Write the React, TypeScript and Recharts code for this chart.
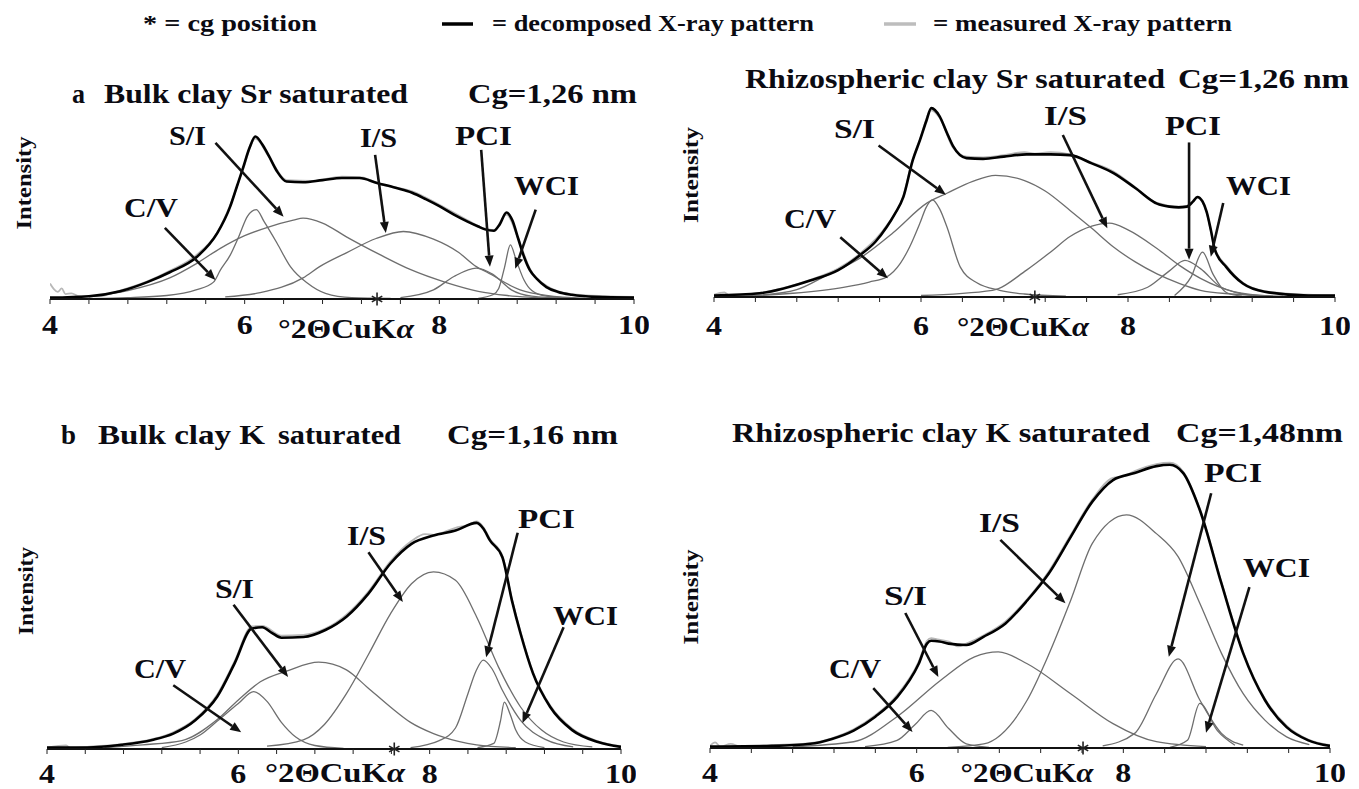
import React from 'react';
import { LineChart, Line, XAxis, YAxis, ReferenceLine, ReferenceDot } from 'recharts';

type P = [number, number];

// ---------- axes ----------
const X_TICKS = [4, 4.4, 4.8, 5.2, 5.6, 6, 6.4, 6.8, 7.2, 7.6, 8, 8.4, 8.8, 9.2, 9.6, 10];
const X_LABELS = [4, 6, 8, 10];
const Y_TICKS_TOP = [0, 1, 2, 3];
const Y_TICKS_BOTTOM = [0, 1, 2, 3, 4, 5];
const COMPONENTS = ['C/V', 'S/I', 'I/S', 'PCI', 'WCI'];
const CG_POSITIONS = [7.36, 7.1, 7.63, 7.61];

// ---------- panel a : Bulk clay Sr saturated ----------
const A_DEC: P[] = [[4.0,0.02],[4.4,0.04],[4.72,0.11],[5.0,0.24],[5.23,0.38],[5.51,0.6],[5.72,0.94],[5.85,1.31],[5.92,1.6],[5.98,1.85],[6.05,2.15],[6.11,2.31],[6.18,2.2],[6.25,2.03],[6.33,1.82],[6.43,1.67],[6.6,1.66],[6.8,1.69],[7.0,1.72],[7.18,1.72],[7.36,1.65],[7.55,1.58],[7.72,1.51],[7.86,1.42],[8.0,1.32],[8.15,1.2],[8.29,1.1],[8.4,1.03],[8.47,0.99],[8.56,0.97],[8.62,1.06],[8.69,1.23],[8.75,1.12],[8.81,0.86],[8.87,0.6],[8.93,0.41],[9.0,0.29],[9.1,0.17],[9.22,0.1],[9.36,0.06],[9.6,0.03],[10.0,0.02]];
const A_MEAS: P[] = [[4.0,0.22],[4.04,0.14],[4.08,0.1],[4.12,0.15],[4.16,0.07],[4.22,0.08],[4.3,0.04],[4.5,0.04],[4.72,0.12],[5.0,0.25],[5.23,0.4],[5.5,0.62],[5.72,0.95],[5.85,1.33],[5.98,1.83],[6.11,2.28],[6.25,2.02],[6.43,1.69],[6.7,1.68],[7.0,1.74],[7.2,1.73],[7.4,1.63],[7.72,1.53],[8.0,1.34],[8.29,1.12],[8.47,1.0],[8.56,0.98],[8.69,1.2],[8.81,0.86],[8.93,0.43],[9.1,0.19],[9.36,0.07],[9.7,0.04],[10.0,0.03]];
const A_CV: P[] = [[4.0,0.0],[4.8,0.02],[5.2,0.05],[5.5,0.13],[5.68,0.24],[5.75,0.41],[5.85,0.62],[5.94,0.89],[6.03,1.18],[6.12,1.27],[6.2,1.1],[6.33,0.8],[6.47,0.46],[6.64,0.23],[6.83,0.08],[7.1,0.02],[7.5,0.01]];
const A_SI: P[] = [[4.4,0.03],[4.8,0.12],[5.23,0.3],[5.5,0.5],[5.75,0.72],[6.0,0.9],[6.26,1.03],[6.5,1.12],[6.6,1.15],[6.8,1.08],[7.05,0.88],[7.39,0.63],[7.7,0.42],[8.08,0.23],[8.4,0.11],[8.7,0.05],[9.2,0.01]];
const A_IS: P[] = [[5.8,0.03],[6.16,0.09],[6.6,0.3],[6.77,0.46],[7.05,0.66],[7.35,0.86],[7.63,0.96],[7.94,0.85],[8.2,0.66],[8.38,0.46],[8.49,0.38],[8.83,0.13],[9.1,0.05],[9.5,0.01]];
const A_PCI: P[] = [[7.6,0.02],[7.94,0.13],[8.15,0.32],[8.38,0.44],[8.55,0.35],[8.74,0.13],[8.95,0.04],[9.3,0.01]];
const A_WCI: P[] = [[8.4,0.01],[8.55,0.06],[8.61,0.15],[8.67,0.45],[8.73,0.77],[8.79,0.55],[8.87,0.27],[8.95,0.12],[9.1,0.04],[9.4,0.01]];
const A_ARROWS: [number, number, number, number][] = [[5.18,1.01,5.7,0.27],[5.7,2.22,6.4,1.17],[7.34,2.05,7.45,0.94],[8.43,2.12,8.52,0.46],[8.99,1.27,8.78,0.43]];

// ---------- panel b-top : Rhizospheric clay Sr saturated ----------
const B_DEC: P[] = [[4.0,0.02],[4.44,0.05],[4.93,0.22],[5.2,0.36],[5.41,0.56],[5.56,0.74],[5.67,0.94],[5.75,1.12],[5.83,1.34],[5.92,1.83],[5.99,2.1],[6.05,2.35],[6.1,2.53],[6.18,2.42],[6.25,2.2],[6.31,2.02],[6.44,1.86],[6.6,1.85],[6.8,1.88],[7.02,1.91],[7.25,1.91],[7.44,1.9],[7.65,1.79],[7.86,1.66],[8.07,1.46],[8.28,1.25],[8.4,1.21],[8.49,1.2],[8.57,1.21],[8.63,1.28],[8.67,1.34],[8.72,1.28],[8.76,1.14],[8.8,0.9],[8.84,0.63],[8.95,0.4],[9.11,0.18],[9.32,0.07],[9.74,0.02],[10.0,0.02]];
const B_MEAS: P[] = [[4.0,0.03],[4.1,0.06],[4.15,0.02],[4.5,0.07],[4.93,0.23],[5.2,0.38],[5.41,0.58],[5.67,0.96],[5.83,1.36],[5.92,1.85],[5.99,2.12],[6.1,2.5],[6.18,2.4],[6.31,2.0],[6.44,1.88],[6.6,1.87],[6.8,1.9],[7.0,1.94],[7.1,1.92],[7.25,1.94],[7.44,1.91],[7.65,1.8],[7.86,1.68],[8.07,1.47],[8.28,1.26],[8.49,1.21],[8.57,1.22],[8.67,1.33],[8.76,1.13],[8.84,0.65],[8.95,0.42],[9.11,0.19],[9.32,0.08],[9.74,0.03],[10.0,0.02]];
const B_CV: P[] = [[4.0,0.0],[4.76,0.05],[5.25,0.13],[5.5,0.2],[5.67,0.27],[5.8,0.45],[5.89,0.67],[5.99,0.99],[6.05,1.2],[6.11,1.3],[6.18,1.18],[6.25,0.94],[6.38,0.4],[6.54,0.19],[6.76,0.09],[7.0,0.04],[7.4,0.01]];
const B_SI: P[] = [[4.4,0.02],[4.8,0.1],[5.1,0.3],[5.41,0.52],[5.73,0.86],[6.06,1.26],[6.25,1.39],[6.5,1.55],[6.72,1.63],[7.0,1.56],[7.2,1.42],[7.44,1.16],[7.65,0.92],[7.86,0.67],[8.07,0.47],[8.28,0.31],[8.5,0.18],[8.7,0.09],[9.0,0.04],[9.5,0.01]];
const B_IS: P[] = [[6.0,0.02],[6.69,0.09],[7.02,0.36],[7.25,0.6],[7.44,0.81],[7.65,0.95],[7.82,0.99],[8.0,0.9],[8.28,0.65],[8.5,0.42],[8.7,0.25],[9.03,0.07],[9.4,0.01]];
const B_PCI: P[] = [[7.9,0.03],[8.19,0.13],[8.4,0.35],[8.55,0.49],[8.7,0.38],[8.9,0.13],[9.2,0.02]];
const B_WCI: P[] = [[8.45,0.02],[8.61,0.27],[8.72,0.6],[8.82,0.31],[8.95,0.06],[9.1,0.01]];
const B_ARROWS: [number, number, number, number][] = [[5.22,0.8,5.68,0.25],[5.59,2.03,6.24,1.37],[7.37,2.17,7.8,0.92],[8.59,2.07,8.59,0.5],[8.92,1.26,8.8,0.54]];

// ---------- panel b : Bulk clay K saturated ----------
const C_DEC: P[] = [[4.0,0.02],[4.42,0.02],[4.78,0.06],[5.1,0.13],[5.32,0.22],[5.55,0.41],[5.78,0.75],[5.96,1.22],[6.14,1.72],[6.25,1.74],[6.35,1.66],[6.45,1.59],[6.68,1.6],[6.91,1.7],[7.13,1.89],[7.36,2.22],[7.59,2.65],[7.81,2.93],[8.04,3.05],[8.27,3.12],[8.49,3.23],[8.56,3.15],[8.63,2.98],[8.76,2.74],[8.86,2.12],[8.95,1.65],[9.08,1.08],[9.26,0.6],[9.49,0.27],[9.76,0.1],[10.0,0.03]];
const C_MEAS: P[] = [[4.0,0.02],[4.2,0.05],[4.25,0.01],[4.42,0.03],[4.78,0.07],[5.1,0.14],[5.32,0.24],[5.55,0.43],[5.78,0.78],[5.96,1.25],[6.14,1.75],[6.25,1.76],[6.45,1.62],[6.68,1.63],[6.91,1.72],[7.13,1.92],[7.36,2.25],[7.59,2.68],[7.81,2.97],[7.95,3.07],[8.04,3.06],[8.27,3.16],[8.4,3.2],[8.49,3.25],[8.56,3.17],[8.63,3.0],[8.76,2.76],[8.86,2.14],[8.95,1.67],[9.08,1.1],[9.26,0.62],[9.49,0.29],[9.76,0.11],[10.0,0.04]];
const C_CV: P[] = [[5.2,0.02],[5.45,0.1],[5.6,0.2],[5.78,0.4],[6.0,0.65],[6.16,0.82],[6.3,0.68],[6.45,0.38],[6.6,0.17],[6.8,0.05],[7.1,0.01]];
const C_SI: P[] = [[4.6,0.02],[5.0,0.06],[5.41,0.12],[5.78,0.42],[6.0,0.7],[6.23,0.96],[6.52,1.12],[6.84,1.24],[7.13,1.13],[7.35,0.88],[7.59,0.6],[7.8,0.38],[8.04,0.22],[8.3,0.11],[8.49,0.06],[8.9,0.02]];
const C_IS: P[] = [[6.3,0.04],[6.68,0.13],[6.9,0.35],[7.13,0.79],[7.36,1.35],[7.59,1.93],[7.81,2.36],[8.04,2.53],[8.27,2.41],[8.49,1.89],[8.72,1.17],[8.95,0.6],[9.17,0.27],[9.4,0.1],[9.7,0.03]];
const C_PCI: P[] = [[7.8,0.02],[8.1,0.12],[8.27,0.3],[8.4,0.79],[8.48,1.1],[8.56,1.27],[8.65,1.15],[8.76,0.84],[8.95,0.41],[9.22,0.13],[9.5,0.03]];
const C_WCI: P[] = [[8.5,0.02],[8.67,0.08],[8.74,0.4],[8.78,0.67],[8.84,0.5],[8.9,0.27],[9.0,0.1],[9.2,0.02]];
const C_ARROWS: [number, number, number, number][] = [[5.32,0.91,6.03,0.24],[5.95,2.06,6.52,1.03],[7.36,2.81,7.72,2.1],[8.92,3.09,8.59,1.31],[9.4,1.74,8.97,0.37]];

// ---------- panel b-right : Rhizospheric clay K saturated ----------
const D_DEC: P[] = [[4.0,0.02],[4.13,0.02],[4.6,0.03],[4.97,0.06],[5.18,0.13],[5.39,0.25],[5.6,0.45],[5.81,0.73],[6.02,1.21],[6.1,1.5],[6.14,1.54],[6.22,1.53],[6.31,1.5],[6.48,1.48],[6.65,1.6],[6.86,1.79],[7.07,2.12],[7.28,2.51],[7.49,3.03],[7.7,3.54],[7.9,3.85],[8.11,3.95],[8.32,4.05],[8.45,4.07],[8.58,3.95],[8.74,3.42],[8.95,2.36],[9.16,1.36],[9.37,0.69],[9.58,0.3],[9.79,0.11],[10.0,0.03]];
const D_MEAS: P[] = [[4.0,0.03],[4.05,0.08],[4.1,0.02],[4.2,0.06],[4.3,0.02],[4.6,0.04],[4.97,0.07],[5.18,0.14],[5.39,0.27],[5.6,0.47],[5.81,0.76],[6.02,1.24],[6.1,1.54],[6.14,1.58],[6.2,1.56],[6.31,1.53],[6.4,1.46],[6.48,1.5],[6.65,1.62],[6.86,1.82],[7.07,2.14],[7.28,2.54],[7.49,3.06],[7.7,3.57],[7.9,3.88],[8.0,3.9],[8.11,3.98],[8.32,4.08],[8.45,4.1],[8.58,3.97],[8.74,3.44],[8.95,2.38],[9.16,1.38],[9.37,0.71],[9.58,0.32],[9.79,0.12],[10.0,0.04]];
const D_CV: P[] = [[5.5,0.02],[5.81,0.11],[5.98,0.33],[6.14,0.54],[6.31,0.28],[6.48,0.06],[6.7,0.01]];
const D_SI: P[] = [[4.8,0.02],[5.39,0.09],[5.81,0.45],[6.23,0.97],[6.56,1.31],[6.79,1.38],[7.07,1.21],[7.49,0.78],[7.9,0.35],[8.32,0.09],[8.8,0.02]];
const D_IS: P[] = [[6.3,0.01],[6.65,0.06],[7.07,0.69],[7.28,1.35],[7.49,2.12],[7.7,2.94],[8.03,3.35],[8.32,3.08],[8.53,2.75],[8.74,2.08],[8.95,1.36],[9.16,0.78],[9.37,0.4],[9.58,0.16],[9.8,0.05]];
const D_PCI: P[] = [[7.8,0.03],[8.11,0.21],[8.32,0.78],[8.53,1.28],[8.74,0.69],[8.95,0.21],[9.16,0.04]];
const D_WCI: P[] = [[8.45,0.01],[8.62,0.11],[8.74,0.64],[8.91,0.25],[9.08,0.04]];
const D_ARROWS: [number, number, number, number][] = [[5.58,0.86,5.96,0.23],[5.89,1.94,6.21,1.02],[6.81,2.99,7.44,2.08],[8.85,3.66,8.44,1.31],[9.22,2.31,8.8,0.22]];

const FONT = '"Liberation Serif", "Times New Roman", Times, serif';
const INK = '#0b0b12';

const ML = 40, MT = 15, MR = 15;

const PANELS = [
  { id: 'a', left: 50, right: 634, top: 88, bottom: 299, yMax: 3, yTicks: Y_TICKS_TOP, cg: CG_POSITIONS[0], dec: A_DEC, meas: A_MEAS, comps: [A_CV, A_SI, A_IS, A_PCI, A_WCI], arrows: A_ARROWS, tickBase: 35, xh: 48 },
  { id: 'b1', left: 714, right: 1335, top: 73, bottom: 297, yMax: 3, yTicks: Y_TICKS_TOP, cg: CG_POSITIONS[1], dec: B_DEC, meas: B_MEAS, comps: [B_CV, B_SI, B_IS, B_PCI, B_WCI], arrows: B_ARROWS, tickBase: 38, xh: 48 },
  { id: 'b', left: 47, right: 621, top: 399, bottom: 749, yMax: 5, yTicks: Y_TICKS_BOTTOM, cg: CG_POSITIONS[2], dec: C_DEC, meas: C_MEAS, comps: [C_CV, C_SI, C_IS, C_PCI, C_WCI], arrows: C_ARROWS, tickBase: 34, xh: 40 },
  { id: 'b2', left: 710, right: 1330, top: 400, bottom: 748, yMax: 5, yTicks: Y_TICKS_BOTTOM, cg: CG_POSITIONS[3], dec: D_DEC, meas: D_MEAS, comps: [D_CV, D_SI, D_IS, D_PCI, D_WCI], arrows: D_ARROWS, tickBase: 34, xh: 40 },
];

const toPts = (arr: P[]) => arr.map(([x, y]) => ({ x, y }));

const ArrowShape = (props: any) => {
  const { x1, y1, x2, y2 } = props;
  const dx = x2 - x1, dy = y2 - y1;
  const len = Math.hypot(dx, dy) || 1;
  const ux = dx / len, uy = dy / len;
  const hl = 11, hw = 4.5;
  const bx = x2 - ux * hl, by = y2 - uy * hl;
  const pts = `${x2},${y2} ${bx - uy * hw},${by + ux * hw} ${bx + uy * hw},${by - ux * hw}`;
  return (
    <g>
      <line x1={x1} y1={y1} x2={bx} y2={by} stroke="#111" strokeWidth={2.6} />
      <polygon points={pts} fill="#111" />
    </g>
  );
};

const StarShape = (props: any) => {
  const { cx, cy } = props;
  const r = 6.5;
  return (
    <g stroke="#222" strokeWidth={1.6}>
      <line x1={cx} y1={cy - r} x2={cx} y2={cy + r} />
      <line x1={cx - r * 0.8} y1={cy - r * 0.45} x2={cx + r * 0.8} y2={cy + r * 0.45} />
      <line x1={cx - r * 0.8} y1={cy + r * 0.45} x2={cx + r * 0.8} y2={cy - r * 0.45} />
    </g>
  );
};

function Panel({ p }: { p: any }) {
  const plotW = p.right - p.left;
  const plotH = p.bottom - p.top;
  const W = ML + plotW + MR;
  const H = MT + plotH + p.xh;
  const axisY = MT + plotH;
  const renderTick = (props: any) => {
    const v = props.payload.value;
    if (!X_LABELS.includes(v)) return <g />;
    const s = String(v);
    return (
      <text x={props.x} y={axisY + p.tickBase} textAnchor="middle" fontFamily={FONT} fontWeight="bold"
        fontSize={27} fill={INK} textLength={s.length * 16} lengthAdjust="spacingAndGlyphs">{s}</text>
    );
  };
  return (
    <div style={{ position: 'absolute', left: p.left - ML, top: p.top - MT, width: W, height: H }}>
      <LineChart width={W} height={H} margin={{ top: MT, right: MR, left: ML, bottom: 0 }}>
        <XAxis type="number" dataKey="x" domain={[4, 10]} ticks={X_TICKS} interval={0} allowDataOverflow
          height={p.xh} tickSize={5} stroke="#111" axisLine={{ stroke: '#111', strokeWidth: 2 }}
          tickLine={{ stroke: '#222', strokeWidth: 1 }} tick={renderTick} />
        <YAxis type="number" domain={[0, p.yMax]} ticks={p.yTicks} width={0} tickSize={5} tick={false}
          axisLine={{ stroke: '#555', strokeWidth: 1.2 }} tickLine={{ stroke: '#555', strokeWidth: 1 }} allowDataOverflow />
        <Line data={toPts(p.meas)} dataKey="y" type="monotone" dot={false} stroke="#b8b8b8" strokeWidth={1.8}
          isAnimationActive={false} name="measured" />
        {p.comps.map((c: P[], i: number) => (
          <Line key={COMPONENTS[i]} data={toPts(c)} dataKey="y" type="monotone" dot={false} stroke="#6e6e6e"
            strokeWidth={1.3} isAnimationActive={false} name={COMPONENTS[i]} />
        ))}
        <Line data={toPts(p.dec)} dataKey="y" type="monotone" dot={false} stroke="#000" strokeWidth={2.6}
          isAnimationActive={false} name="decomposed" />
        {p.arrows.map((a: number[], i: number) => (
          <ReferenceLine key={'ar' + i} segment={[{ x: a[0], y: a[1] }, { x: a[2], y: a[3] }]} ifOverflow="visible"
            shape={ArrowShape} />
        ))}
        <ReferenceDot x={p.cg} y={0} r={6} ifOverflow="visible" shape={StarShape} />
      </LineChart>
    </div>
  );
}

const T = ({ x, y, w, fs = 27, anchor = 'start', children }: any) => (
  <text x={x} y={y} fontSize={fs} fontFamily={FONT} fontWeight="bold" fill={INK} textAnchor={anchor}
    textLength={w} lengthAdjust="spacingAndGlyphs">{children}</text>
);

const VT = ({ cx, cy, len }: any) => (
  <text transform={`translate(${cx + 8},${cy}) rotate(-90)`} fontSize={22} fontFamily={FONT} fontWeight="bold"
    fill={INK} textAnchor="middle" textLength={len} lengthAdjust="spacingAndGlyphs">Intensity</text>
);

const AxisTitle = ({ cx, y, w }: any) => (
  <text x={cx} y={y} fontSize={27} fontFamily={FONT} fontWeight="bold" fill={INK} textAnchor="middle"
    textLength={w} lengthAdjust="spacingAndGlyphs">
    <tspan>°2ΘCuK</tspan><tspan fontStyle="italic">α</tspan>
  </text>
);

export default function App() {
  return (
    <div style={{ position: 'absolute', left: 0, top: 0, width: 1359, height: 789, overflow: 'hidden', background: '#fff' }}>
      {PANELS.map((p) => <Panel key={p.id} p={p} />)}
      <svg width={1359} height={789} style={{ position: 'absolute', left: 0, top: 0, pointerEvents: 'none' }}>
        {/* legend */}
        <T x={143} y={31} w={174} fs={23}>* = cg position</T>
        <line x1={442} y1={24} x2={473} y2={24} stroke="#000" strokeWidth={3.5} />
        <T x={492} y={31} w={322} fs={23}>= decomposed X-ray pattern</T>
        <line x1={884} y1={24} x2={916} y2={24} stroke="#bdbdbd" strokeWidth={3.5} />
        <T x={933} y={31} w={299} fs={23}>= measured X-ray pattern</T>

        {/* panel a */}
        <T x={72} y={103} w={13}>a</T>
        <T x={104} y={103} w={304}>Bulk clay Sr saturated</T>
        <T x={468} y={103} w={169}>Cg=1,26 nm</T>
        <T x={169} y={145} w={37}>{COMPONENTS[1]}</T>
        <T x={360} y={147} w={37}>{COMPONENTS[2]}</T>
        <T x={455} y={145} w={57}>{COMPONENTS[3]}</T>
        <T x={514} y={195} w={65}>{COMPONENTS[4]}</T>
        <T x={124} y={217} w={54}>{COMPONENTS[0]}</T>
        <VT cx={23} cy={183} len={93} />
        <AxisTitle cx={346} y={338} w={136} />

        {/* panel top right */}
        <T x={745} y={88} w={420}>Rhizospheric clay Sr saturated</T>
        <T x={1178} y={88} w={171}>Cg=1,26 nm</T>
        <T x={834} y={138} w={41}>{COMPONENTS[1]}</T>
        <T x={1044} y={125} w={43}>{COMPONENTS[2]}</T>
        <T x={1165} y={135} w={56}>{COMPONENTS[3]}</T>
        <T x={1226} y={195} w={65}>{COMPONENTS[4]}</T>
        <T x={784} y={228} w={52}>{COMPONENTS[0]}</T>
        <VT cx={690} cy={175} len={96} />
        <AxisTitle cx={1023} y={336} w={132} />

        {/* panel b */}
        <T x={61} y={444} w={15}>b</T>
        <T x={98} y={444} w={167}>Bulk clay K</T>
        <T x={278} y={444} w={123}>saturated</T>
        <T x={447} y={444} w={171}>Cg=1,16 nm</T>
        <T x={347} y={545} w={39}>{COMPONENTS[2]}</T>
        <T x={518} y={528} w={57}>{COMPONENTS[3]}</T>
        <T x={215} y={598} w={39}>{COMPONENTS[1]}</T>
        <T x={553} y={625} w={65}>{COMPONENTS[4]}</T>
        <T x={134} y={678} w={52}>{COMPONENTS[0]}</T>
        <VT cx={25} cy={591} len={88} />
        <AxisTitle cx={335} y={782} w={140} />

        {/* panel bottom right */}
        <T x={732} y={442} w={418}>Rhizospheric clay K saturated</T>
        <T x={1176} y={442} w={167}>Cg=1,48nm</T>
        <T x={1204} y={482} w={58}>{COMPONENTS[3]}</T>
        <T x={979} y={532} w={41}>{COMPONENTS[2]}</T>
        <T x={1243} y={577} w={67}>{COMPONENTS[4]}</T>
        <T x={884} y={605} w={43}>{COMPONENTS[1]}</T>
        <T x={829} y={678} w={52}>{COMPONENTS[0]}</T>
        <VT cx={690} cy={597} len={95} />
        <AxisTitle cx={1027} y={782} w={133} />
      </svg>
    </div>
  );
}
